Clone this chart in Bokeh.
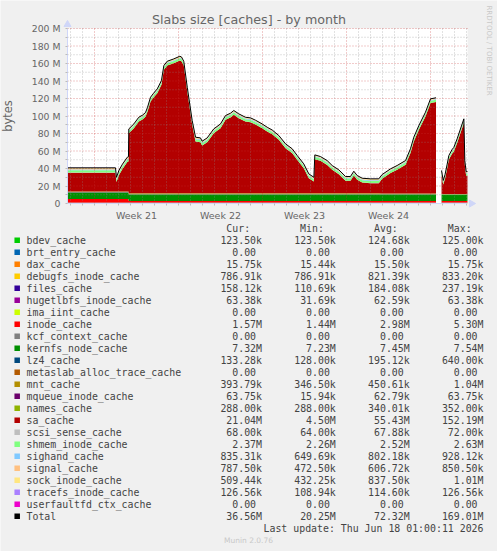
import math
from bokeh.plotting import figure
from bokeh.models import (ColumnDataSource, Range1d, FixedTicker, LinearAxis)
from bokeh.embed import file_html
from bokeh.resources import INLINE
from bokeh.core.properties import value

# ---------------- data (values in MB) ----------------
series_names = ["bdev_cache", "brt_entry_cache", "dax_cache", "debugfs_inode_cache",
                "files_cache", "hugetlbfs_inode_cache", "ima_iint_cache", "inode_cache",
                "kcf_context_cache", "kernfs_node_cache", "lz4_cache",
                "metaslab_alloc_trace_cache", "mnt_cache", "mqueue_inode_cache",
                "names_cache", "sa_cache", "scsi_sense_cache", "shmem_inode_cache",
                "sighand_cache", "signal_cache", "sock_inode_cache",
                "tracefs_inode_cache", "userfaultfd_ctx_cache"]
series_colors = ["#00CC00", "#0066B3", "#FF8000", "#FFCC00", "#330099", "#990099",
                 "#CCFF00", "#FF0000", "#808080", "#008F00", "#00487D", "#B35A00",
                 "#B38F00", "#6B006B", "#8FB300", "#B30000", "#BEBEBE", "#80FF80",
                 "#80C9FF", "#FFC080", "#FFE680", "#AA80FF", "#EE00CC"]

# days since the left edge of the graph
days = [0.00, 4.00, 4.08, 4.29, 4.58, 4.98, 5.08,
        5.11, 5.53, 5.94, 6.25, 6.50, 6.67, 6.92, 7.17, 7.48, 7.83, 8.03, 8.31, 8.86, 9.36,
        9.50, 9.69, 9.98, 10.39, 10.67, 11.08, 11.22, 11.64, 12.19, 12.46,
        12.75, 13.17, 13.58, 13.86, 14.27, 14.83, 15.25, 15.67, 16.22, 16.64,
        17.06, 17.61, 18.17, 18.73, 19.14, 19.69, 20.11, 20.53, 20.61, 21.08,
        21.64, 22.06, 22.61, 23.17, 23.58, 23.86, 24.14, 24.56, 25.25, 25.94,
        26.22, 26.92, 27.47, 28.17, 28.58, 28.86, 29.28, 29.83, 30.25, 30.71,
        31.17, 31.31, 31.46, 31.64, 31.78, 32.06, 32.19, 32.47, 33.03, 33.11, 33.22, 33.33]
sa_cache = [21.5, 21.5, 10.7, 18.7, 25.7, 33.6, 34.2,
            68.5, 74.2, 81.8, 84.2, 87.2, 93.2, 104.7, 109.2, 114.2, 123.8, 140.9, 145.8, 148.5, 151.5,
            150.7, 145.8, 116.1, 78.1, 59.0, 58.2, 54.4, 58.2, 68.5, 71.2,
            74.2, 83.8, 86.4, 89.5, 85.7, 81.8, 81.1, 78.4, 74.2, 70.4,
            67.2, 60.9, 51.4, 45.7, 38.1, 28.5, 17.1, 13.2, 38.8, 36.9,
            32.3, 26.6, 21.7, 14.1, 14.1, 20.1, 15.2, 12.1, 11.4, 11.4,
            16.8, 23.3, 27.1, 32.8, 46.2, 59.5, 72.8, 88.0, 103.3, 104.5,
            22.0, 10.6, 17.3, 29.3, 39.2, 46.3, 48.3, 58.2, 81.1, 33.3, 20.8, 20.9]
gap_day = 31.0  # no data between the last point before and the first point after

# smaller caches: level per period (periods start at these days)
period_start = [0.0, 5.1, 26.1, 31.0]
bdev_cache = [0.125, 0.125, 0.124, 0.1235]
brt_entry_cache = [0.0, 0.0, 0.0, 0.0]
dax_cache = [0.0155, 0.0155, 0.0155, 0.01575]
debugfs_inode_cache = [0.833, 0.82, 0.80, 0.787]
files_cache = [0.237, 0.18, 0.18, 0.158]
hugetlbfs_inode_cache = [0.063, 0.063, 0.063, 0.0634]
ima_iint_cache = [0.0, 0.0, 0.0, 0.0]
inode_cache = [4.0, 1.6, 1.6, 1.57]
kcf_context_cache = [0.0, 0.0, 0.0, 0.0]
kernfs_node_cache = [7.0, 7.5, 7.4, 7.32]
lz4_cache = [0.64, 0.13, 0.45, 0.2]
metaslab_alloc_trace_cache = [0.0, 0.0, 0.0, 0.0]
mnt_cache = [0.45, 1.0, 0.4, 0.39]
mqueue_inode_cache = [0.063, 0.063, 0.063, 0.0638]
names_cache = [0.352, 0.34, 0.33, 0.288]
scsi_sense_cache = [0.068, 0.068, 0.068, 0.068]
shmem_inode_cache = [2.6, 2.5, 2.5, 2.37]
sighand_cache = [0.9, 0.8, 0.8, 0.835]
signal_cache = [0.8, 0.6, 0.6, 0.79]
sock_inode_cache = [1.0, 0.85, 0.8, 0.51]
tracefs_inode_cache = [0.11, 0.115, 0.12, 0.127]
userfaultfd_ctx_cache = [0.0, 0.0, 0.0, 0.0]

legend_cur = ["123.50k", "0.00", "15.75k", "786.91k", "158.12k", "63.38k", "0.00", "1.57M",
              "0.00", "7.32M", "133.28k", "0.00", "393.79k", "63.75k", "288.00k", "21.04M",
              "68.00k", "2.37M", "835.31k", "787.50k", "509.44k", "126.56k", "0.00", "36.56M"]
legend_min = ["123.50k", "0.00", "15.44k", "786.91k", "110.69k", "31.69k", "0.00", "1.44M",
              "0.00", "7.23M", "128.00k", "0.00", "346.50k", "15.94k", "288.00k", "4.50M",
              "64.00k", "2.26M", "649.69k", "472.50k", "432.25k", "108.94k", "0.00", "20.25M"]
legend_avg = ["124.68k", "0.00", "15.50k", "821.39k", "184.08k", "62.59k", "0.00", "2.98M",
              "0.00", "7.45M", "195.12k", "0.00", "450.61k", "62.79k", "340.01k", "55.43M",
              "67.88k", "2.52M", "802.18k", "606.72k", "837.50k", "114.60k", "0.00", "72.32M"]
legend_max = ["125.00k", "0.00", "15.75k", "833.20k", "237.19k", "63.38k", "0.00", "5.30M",
              "0.00", "7.54M", "640.00k", "0.00", "1.04M", "63.75k", "352.00k", "152.19M",
              "72.00k", "2.63M", "928.12k", "850.50k", "1.01M", "126.56k", "0.00", "169.01M"]

week_labels = ["Week 21", "Week 22", "Week 23", "Week 24"]
week_start_days = [2.25, 9.25, 16.25, 23.25, 30.25]
y_tick_values = [0, 20, 40, 60, 80, 100, 120, 140, 160, 180, 200]
y_tick_labels = ["0", "20 M", "40 M", "60 M", "80 M", "100 M", "120 M", "140 M",
                 "160 M", "180 M", "200 M"]

title_text = "Slabs size [caches] - by month"
last_update = "Last update: Thu Jun 18 01:00:11 2026"

# ---------------- build table ----------------
step_series = {
    "bdev_cache": bdev_cache, "brt_entry_cache": brt_entry_cache, "dax_cache": dax_cache,
    "debugfs_inode_cache": debugfs_inode_cache, "files_cache": files_cache,
    "hugetlbfs_inode_cache": hugetlbfs_inode_cache, "ima_iint_cache": ima_iint_cache,
    "inode_cache": inode_cache, "kcf_context_cache": kcf_context_cache,
    "kernfs_node_cache": kernfs_node_cache, "lz4_cache": lz4_cache,
    "metaslab_alloc_trace_cache": metaslab_alloc_trace_cache, "mnt_cache": mnt_cache,
    "mqueue_inode_cache": mqueue_inode_cache, "names_cache": names_cache,
    "scsi_sense_cache": scsi_sense_cache, "shmem_inode_cache": shmem_inode_cache,
    "sighand_cache": sighand_cache, "signal_cache": signal_cache,
    "sock_inode_cache": sock_inode_cache, "tracefs_inode_cache": tracefs_inode_cache,
    "userfaultfd_ctx_cache": userfaultfd_ctx_cache,
}


def period_of(d):
    k = 0
    for i, s in enumerate(period_start):
        if d >= s:
            k = i
    return k


def make_source(idx):
    data = {"t": [days[i] for i in idx]}
    for name in series_names:
        if name == "sa_cache":
            data[name] = [sa_cache[i] for i in idx]
        else:
            data[name] = [step_series[name][period_of(days[i])] for i in idx]
    data["total"] = [sum(data[n][j] for n in series_names) for j in range(len(idx))]
    return ColumnDataSource(data)


seg1 = [i for i, d in enumerate(days) if d < gap_day]
seg2 = [i for i, d in enumerate(days) if d >= gap_day]

# ---------------- page geometry ----------------
W, H = 497, 551
FL, FR, FT, FB = 67, 467, 28, 203          # graph canvas in page pixels
DAY_PX = 12.0
MB_PX = (FB - FT) / 200.0
chart_days = (FR - FL) / DAY_PX

p = figure(width=W, height=H, x_range=Range1d(0, W), y_range=Range1d(H, 0),
           x_axis_type=None, y_axis_type=None,
           output_backend="svg", toolbar_location=None,
           min_border=0, min_border_left=0, min_border_right=0,
           min_border_top=0, min_border_bottom=0,
           background_fill_color="#F0F0F0", border_fill_color="#F0F0F0",
           outline_line_color=None)
p.title.visible = False
p.grid.visible = False
p.extra_x_ranges = {"time": Range1d(-FL / DAY_PX, (W - FL) / DAY_PX)}
p.extra_y_ranges = {"mb": Range1d(-(H - FB) / MB_PX, FB / MB_PX)}
TR = dict(x_range_name="time", y_range_name="mb")

# graph canvas
p.quad(left=[0], right=[chart_days], bottom=[0], top=[200], fill_color="white",
       line_color=None, **TR)

srcs = [make_source(seg1), make_source(seg2)]
for src in srcs:
    p.varea_stack(stackers=series_names, x="t", color=series_colors, source=src, **TR)

# grid (drawn over the areas, like rrdtool)
grid_gray = "#8C8C8C"
grid_red = "#C83232"
day_lines = [0.25 + k for k in range(34) if (0.25 + k) not in week_start_days]
minor_y = list(range(10, 200, 20))
major_y = y_tick_values[1:]
gs = dict(line_alpha=0.5, line_dash="1 2", line_width=1)
p.segment(x0=day_lines, y0=[0] * len(day_lines), x1=day_lines, y1=[200] * len(day_lines),
          line_color=grid_gray, **gs, **TR)
p.segment(x0=[0] * len(minor_y), y0=minor_y, x1=[chart_days] * len(minor_y), y1=minor_y,
          line_color=grid_gray, **gs, **TR)
p.segment(x0=week_start_days, y0=[0] * 5, x1=week_start_days, y1=[200] * 5,
          line_color=grid_red, **gs, **TR)
p.segment(x0=[0] * len(major_y), y0=major_y, x1=[chart_days] * len(major_y), y1=major_y,
          line_color=grid_red, **gs, **TR)

for src in srcs:
    p.line("t", "total", source=src, line_color="black", line_width=1, **TR)

axis_col = "#CFD6F8"
font_col = "#666666"
mid_weeks = [(a + b) / 2 for a, b in zip(week_start_days[:-1], week_start_days[1:])]

xa = LinearAxis(fixed_location=0, bounds=(0, chart_days),
                ticker=FixedTicker(ticks=mid_weeks, minor_ticks=[0.25 + k for k in range(34)]),
                major_label_overrides=dict(zip(mid_weeks, week_labels)), **TR)
xa.major_tick_line_color = None
xa.major_tick_in = 0
xa.major_tick_out = 0
xa.minor_tick_in = 0
xa.minor_tick_out = 2
xa.minor_tick_line_color = "#BBBBBB"
xa.axis_line_color = axis_col
xa.major_label_standoff = 4
xa.major_label_text_font = "DejaVu Sans"
xa.major_label_text_font_size = "9.5px"
xa.major_label_text_color = font_col
p.add_layout(xa, "below")

ya = LinearAxis(fixed_location=0, bounds=(0, 200),
                ticker=FixedTicker(ticks=y_tick_values, minor_ticks=minor_y),
                major_label_overrides=dict(zip(y_tick_values, y_tick_labels)), **TR)
ya.major_tick_in = 0
ya.major_tick_out = 2
ya.minor_tick_in = 0
ya.minor_tick_out = 2
ya.major_tick_line_color = "#BBBBBB"
ya.minor_tick_line_color = "#BBBBBB"
ya.axis_line_color = axis_col
ya.major_label_standoff = 5
ya.major_label_text_font = "DejaVu Sans"
ya.major_label_text_font_size = "9.3px"
ya.major_label_text_color = font_col
ya.axis_label = "bytes"
ya.axis_label_text_font = "DejaVu Sans"
ya.axis_label_text_font_style = "normal"
ya.axis_label_text_font_size = "11.5px"
ya.axis_label_text_color = font_col
ya.axis_label_standoff = 14
p.add_layout(ya, "left")

# axis arrows
p.scatter(x=[0], y=[200 + 4 / MB_PX], marker="triangle", size=7, fill_color=axis_col,
          line_color=axis_col, **TR)
p.scatter(x=[chart_days + 4 / DAY_PX], y=[0], marker="triangle", angle=-math.pi / 2, size=7,
          fill_color=axis_col, line_color=axis_col, **TR)

# title and rrdtool watermark (page pixels)
p.text(x=[248.5], y=[19.0], text=[title_text], text_font=value("DejaVu Sans"),
       text_font_size="12.7px", text_color=font_col, text_align="center",
       text_baseline="middle")
p.text(x=[488.0], y=[5.0], text=["RRDTOOL / TOBI OETIKER"], angle=-math.pi / 2,
       text_font=value("DejaVu Sans"), text_font_size="7px", text_color="#C8C8C8",
       text_align="left", text_baseline="middle")

# ---------------- legend ----------------
row0 = 239.7
step = 12.0
legend_names = series_names + ["Total"]
legend_colors = series_colors + ["#000000"]
rows_y = [row0 + step * i for i in range(len(legend_names))]
mono = value("DejaVu Sans Mono")
fs = "9.9px"
txt_col = "#444444"
cw = 5.96

p.rect(x=[16.7] * len(rows_y), y=rows_y, width=5.5, height=5.5,
       fill_color=legend_colors, line_color=None)
p.text(x=[26.0] * len(rows_y), y=rows_y, text=legend_names, text_font=mono,
       text_font_size=fs, text_color=txt_col, text_align="left", text_baseline="middle")

col_right = [261.5, 335.3, 409.2, 483.0]
headers = ["Cur:", "Min:", "Avg:", "Max:"]
p.text(x=[c - 2 * cw for c in col_right], y=[row0 - step] * 4, text=headers, text_font=mono,
       text_font_size=fs, text_color=txt_col, text_align="right", text_baseline="middle")
for c, vals in zip(col_right, [legend_cur, legend_min, legend_avg, legend_max]):
    xs = [c - (0 if v[-1] in "kM" else cw) for v in vals]
    p.text(x=xs, y=rows_y, text=vals, text_font=mono, text_font_size=fs,
           text_color=txt_col, text_align="right", text_baseline="middle")

p.text(x=[col_right[-1]], y=[rows_y[-1] + step], text=[last_update], text_font=mono,
       text_font_size=fs, text_color=txt_col, text_align="right", text_baseline="middle")
p.text(x=[248.0], y=[540.0], text=["Munin 2.0.76"], text_font=value("DejaVu Sans"),
       text_font_size="7.5px", text_color="#C8C8C8", text_align="center",
       text_baseline="middle")

open("out.html", "w").write(file_html(p, INLINE))
